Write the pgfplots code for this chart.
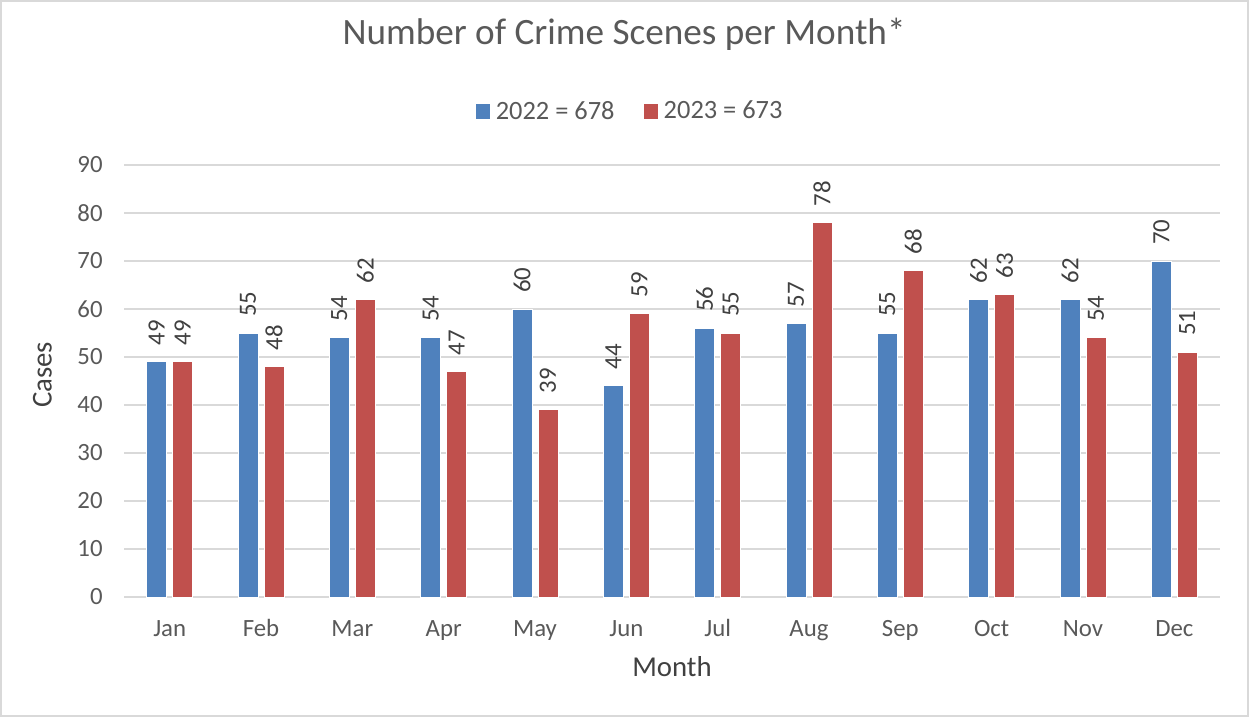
\documentclass[border=0pt]{standalone}
\usepackage{pgfplots}
\pgfplotsset{compat=1.18}
\usepackage{fontspec}
\setmainfont{Carlito}
\definecolor{cblue}{HTML}{4F81BD}
\definecolor{cred}{HTML}{C0504D}
\definecolor{cgrid}{HTML}{D9D9D9}
\definecolor{ctext}{HTML}{595959}
\definecolor{cdark}{HTML}{404040}
\begin{document}
\begin{tikzpicture}
\useasboundingbox (0,0) rectangle (624.5pt,-358.5pt);
\draw[cgrid, line width=0.75pt] (0.5pt,-0.5pt) rectangle (624pt,-358pt);
\begin{axis}[
  at={(62pt,-298.5pt)}, anchor=south west,
  scale only axis, width=548pt, height=216pt,
  xmin=-0.5, xmax=11.5, ymin=0, ymax=90,
  ybar, bar width=10pt,
  clip=false,
  xtick={0,...,11},
  xticklabels={Jan,Feb,Mar,Apr,May,Jun,Jul,Aug,Sep,Oct,Nov,Dec},
  ytick={0,10,...,90},
  major tick length=0pt,
  axis line style={draw=none},
  ymajorgrids, grid style={cgrid, line width=0.75pt},
  /pgf/number format/assume math mode=true,
  ticklabel style={font=\fontsize{12.4}{14}\selectfont, text=ctext, inner sep=0pt},
  yticklabel style={anchor=east, xshift=-10.5pt},
  xticklabel style={anchor=base, yshift=-19.5pt},
  title={Number of Crime Scenes per Month*},
  title style={at={(axis description cs:0.4562,1.2507)}, anchor=base,
    font=\fontsize{18.6}{22}\selectfont, text=ctext, inner sep=0pt},
  xlabel={Month},
  xlabel style={at={(axis description cs:0.5,-0.1847)}, anchor=base,
    font=\fontsize{14.4}{17}\selectfont, text=cdark, inner sep=0pt},
  ylabel={Cases},
  ylabel style={at={(axis description cs:-0.06597,0.514)}, anchor=base,
    font=\fontsize{14.4}{17}\selectfont, text=cdark, inner sep=0pt},
  legend style={at={(axis description cs:0.4608,1.1238)}, anchor=center,
    legend columns=2, draw=none, fill=none, inner sep=0pt,
    font=\fontsize{13.2}{15}\selectfont, text=ctext, nodes={inner sep=0pt},
    /tikz/every odd column/.append style={column sep=2.8pt},
    /tikz/every even column/.append style={column sep=14.5pt}},
  legend image code/.code={\fill[#1, draw=none] (0pt,-3.65pt) rectangle (7.3pt,3.65pt);},
  nodes near coords,
  every node near coord/.append style={rotate=90, anchor=west,
    inner xsep=8pt, inner ysep=0pt,
    font=\fontsize{12.4}{14}\selectfont, text=cdark},
]
\addplot[fill=cblue, draw=white, line width=0.4pt, bar shift=-6.5pt] coordinates {
(0,49) (1,55) (2,54) (3,54) (4,60) (5,44) (6,56) (7,57) (8,55) (9,62) (10,62) (11,70)};
\addlegendentry{2022 = 678}
\addplot[fill=cred, draw=white, line width=0.4pt, bar shift=6.5pt] coordinates {
(0,49) (1,48) (2,62) (3,47) (4,39) (5,59) (6,55) (7,78) (8,68) (9,63) (10,54) (11,51)};
\addlegendentry{2023 = 673}
\end{axis}
\end{tikzpicture}
\end{document}
